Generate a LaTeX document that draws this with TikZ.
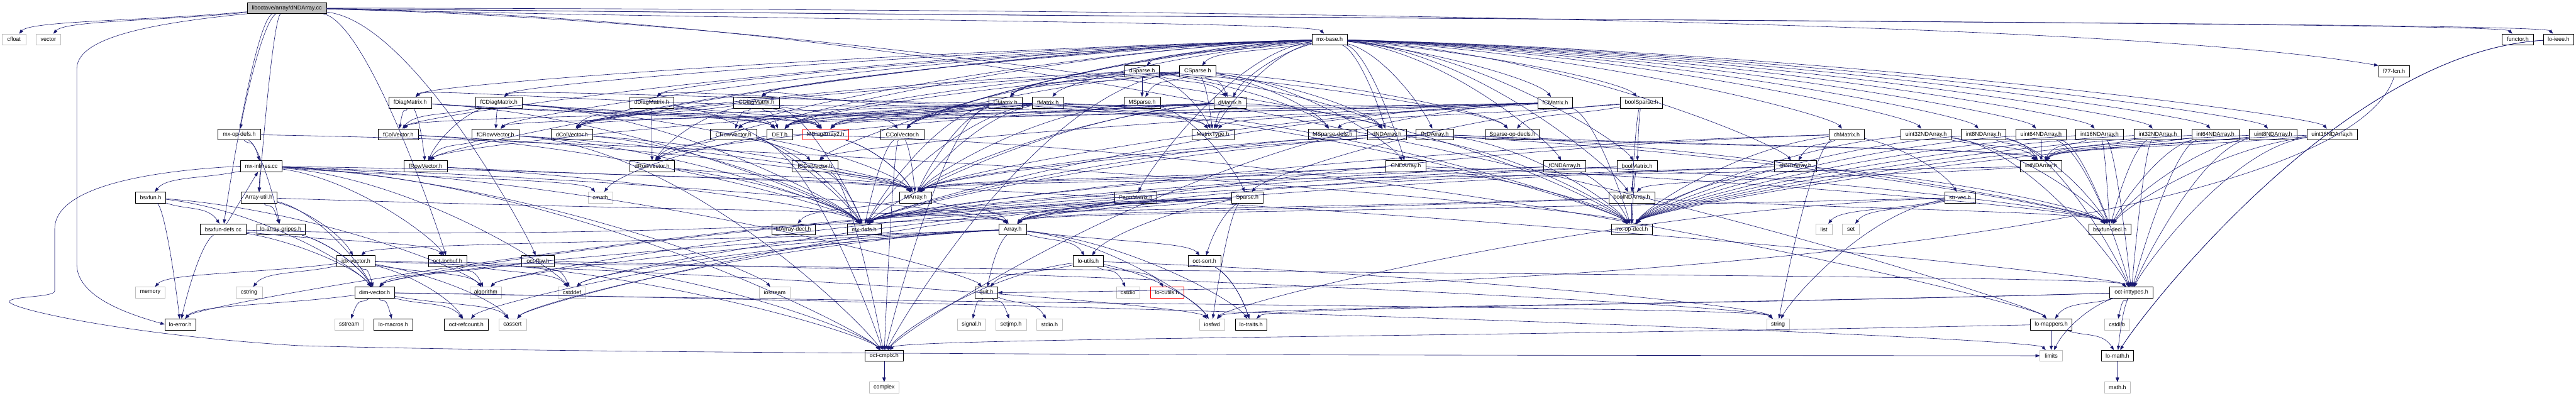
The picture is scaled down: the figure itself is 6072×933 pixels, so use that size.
\documentclass[tikz,border=0pt]{standalone}
\usepackage{fontspec}
\setmainfont{Liberation Sans}
\usetikzlibrary{arrows.meta,calc}
\definecolor{edgec}{HTML}{191970}
\definecolor{sysgray}{HTML}{BFBFBF}
\definecolor{rootfill}{HTML}{BFBFBF}
\definecolor{truncred}{HTML}{FF0000}
\begin{document}
\begin{tikzpicture}[x=1pt,y=-1pt,
  box/.style={draw=black, fill=white, line width=0.9pt, minimum height=26pt, inner sep=0pt, font=\fontsize{13.3}{15}\selectfont, text=black},
  sysbox/.style={box, draw=sysgray},
  redbox/.style={box, draw=truncred},
  e/.style={draw=edgec, line width=0.9pt, -{Triangle[length=10pt,width=7.5pt]}}]
\fill[white] (0,0) rectangle (6072,933);
\useasboundingbox (0,0) rectangle (6072,933);
% row 1
\node[box, fill=rootfill, minimum width=187pt] (root) at (676,19) {liboctave/array/dNDArray.cc};
% row 2
\node[sysbox, minimum width=55pt] (cfloat) at (33,93) {cfloat};
\node[sysbox, minimum width=58pt] (vector) at (114,93) {vector};
\node[box, minimum width=83pt] (mxbase) at (3134,93) {mx-base.h};
\node[box, minimum width=74pt] (functor) at (5935,93) {functor.h};
\node[box, minimum width=71pt] (loieee) at (6031,93) {lo-ieee.h};
% row 3
\node[box, minimum width=82pt] (dSparse) at (2692,168) {dSparse.h};
\node[box, minimum width=85pt] (CSparse) at (2823,168) {CSparse.h};
\node[box, minimum width=73pt] (ffcn) at (5643,168) {f77-fcn.h};
% row 4
\node[box, minimum width=100pt] (fDiagMatrix) at (967,242) {fDiagMatrix.h};
\node[box, minimum width=110pt] (fCDiagMatrix) at (1176,242) {fCDiagMatrix.h};
\node[box, minimum width=103pt] (dDiagMatrix) at (1536,242) {dDiagMatrix.h};
\node[box, minimum width=107pt] (CDiagMatrix) at (1783,242) {CDiagMatrix.h};
\node[box, minimum width=78pt] (CMatrix) at (2370,242) {CMatrix.h};
\node[box, minimum width=73pt] (fMatrix) at (2470,242) {fMatrix.h};
\node[box, minimum width=86pt] (MSparse) at (2692,242) {MSparse.h};
\node[box, minimum width=76pt] (dMatrix) at (2899,242) {dMatrix.h};
\node[box, minimum width=82pt] (fCMatrix) at (3666,242) {fCMatrix.h};
\node[box, minimum width=99pt] (boolSparse) at (3869,242) {boolSparse.h};
% row 5
\node[box, minimum width=100pt] (mxopdefs) at (564,317) {mx-op-defs.h};
\node[box, minimum width=94pt] (fColVector) at (939,317) {fColVector.h};
\node[box, minimum width=111pt] (fCRowVector) at (1168,317) {fCRowVector.h};
\node[box, minimum width=99pt] (dColVector) at (1348,317) {dColVector.h};
\node[box, minimum width=109pt] (CRowVector) at (1729,317) {CRowVector.h};
\node[box, minimum width=60pt] (DET) at (1838,317) {DET.h};
\node[redbox, minimum width=109pt] (MDiagArray) at (1946,317) {MDiagArray2.h};
\node[box, minimum width=101pt] (CColVector) at (2127,317) {CColVector.h};
\node[box, minimum width=99pt] (MatrixType) at (2859,317) {MatrixType.h};
\node[box, minimum width=115pt] (MSparsedefs) at (3141,317) {MSparse-defs.h};
\node[box, minimum width=91pt] (dNDArrayh) at (3269,317) {dNDArray.h};
\node[box, minimum width=89pt] (fNDArray) at (3382,317) {fNDArray.h};
\node[box, minimum width=127pt] (Sparseopdecls) at (3565,317) {Sparse-op-decls.h};
\node[box, minimum width=83pt] (chMatrix) at (4353,317) {chMatrix.h};
\node[box, minimum width=119pt] (u32) at (4540,317) {uint32NDArray.h};
\node[box, minimum width=106pt] (i8) at (4675,317) {int8NDArray.h};
\node[box, minimum width=119pt] (u64) at (4811,317) {uint64NDArray.h};
\node[box, minimum width=113pt] (i16) at (4949,317) {int16NDArray.h};
\node[box, minimum width=112pt] (i32) at (5086,317) {int32NDArray.h};
\node[box, minimum width=112pt] (i64) at (5222,317) {int64NDArray.h};
\node[box, minimum width=112pt] (u8) at (5358,317) {uint8NDArray.h};
\node[box, minimum width=119pt] (u16) at (5497,317) {uint16NDArray.h};
% row 6
\node[box, minimum width=98pt] (mxinlines) at (616,392) {mx-inlines.cc};
\node[box, minimum width=103pt] (fRowVector) at (1003,392) {fRowVector.h};
\node[box, minimum width=105pt] (dRowVector) at (1537,392) {dRowVector.h};
\node[box, minimum width=107pt] (fCColVector) at (1921,392) {fCColVector.h};
\node[box, minimum width=95pt] (CNDArray) at (3314,392) {CNDArray.h};
\node[box, minimum width=99pt] (fCNDArray) at (3688,392) {fCNDArray.h};
\node[box, minimum width=94pt] (boolMatrix) at (3859,392) {boolMatrix.h};
\node[box, minimum width=99pt] (chNDArray) at (4232,392) {chNDArray.h};
\node[box, minimum width=98pt] (intNDArray) at (4811,392) {intNDArray.h};
% row 7
\node[box, minimum width=72pt] (bsxfun) at (355,466) {bsxfun.h};
\node[box, minimum width=85pt] (Arrayutil) at (610,466) {Array-util.h};
\node[sysbox, minimum width=58pt] (cmath) at (1415,466) {cmath};
\node[box, minimum width=75pt] (MArray) at (2158,466) {MArray.h};
\node[box, minimum width=99pt] (PermMatrix) at (2677,466) {PermMatrix.h};
\node[box, minimum width=75pt] (Sparse) at (2940,466) {Sparse.h};
\node[box, minimum width=108pt] (boolNDArray) at (3846,466) {boolNDArray.h};
\node[box, minimum width=73pt] (strvec) at (4620,466) {str-vec.h};
% row 8
\node[box, minimum width=108pt] (bsxfundefs) at (526,541) {bsxfun-defs.cc};
\node[box, minimum width=114pt] (loarraygripes) at (662,541) {lo-array-gripes.h};
\node[box, minimum width=102pt] (MArraydecl) at (1870,541) {MArray-decl.h};
\node[box, minimum width=80pt] (mxdefs) at (2037,541) {mx-defs.h};
\node[box, minimum width=64pt] (Array) at (2387,541) {Array.h};
\node[box, minimum width=96pt] (mxopdecl) at (3846,541) {mx-op-decl.h};
\node[sysbox, minimum width=38pt] (list) at (4299,541) {list};
\node[sysbox, minimum width=40pt] (set) at (4363,541) {set};
\node[box, minimum width=99pt] (bsxfundecl) at (4973,541) {bsxfun-decl.h};
% row 9
\node[box, minimum width=90pt] (idxvector) at (839,616) {idx-vector.h};
\node[box, minimum width=90pt] (octlocbuf) at (1055,616) {oct-locbuf.h};
\node[box, minimum width=77pt] (octfftw) at (1268,616) {oct-fftw.h};
\node[box, minimum width=71pt] (loutils) at (2565,616) {lo-utils.h};
\node[box, minimum width=78pt] (octsort) at (2839,616) {oct-sort.h};
% row 10
\node[sysbox, minimum width=70pt] (memory) at (354,690) {memory};
\node[sysbox, minimum width=62pt] (cstring) at (587,690) {cstring};
\node[box, minimum width=94pt] (dimvector) at (883,690) {dim-vector.h};
\node[sysbox, minimum width=74pt] (algorithm) at (1145,690) {algorithm};
\node[sysbox, minimum width=65pt] (cstddef) at (1348,690) {cstddef};
\node[sysbox, minimum width=72pt] (iostream) at (1826,690) {iostream};
\node[box, minimum width=54pt] (quit) at (2325,690) {quit.h};
\node[sysbox, minimum width=56pt] (cstdio) at (2659,690) {cstdio};
\node[redbox, minimum width=78pt] (locutils) at (2751,690) {lo-cutils.h};
\node[box, minimum width=102pt] (octinttypes) at (5024,690) {oct-inttypes.h};
% row 11
\node[box, minimum width=73pt] (loerror) at (425,765) {lo-error.h};
\node[sysbox, minimum width=69pt] (sstream) at (823,765) {sstream};
\node[box, minimum width=91pt] (lomacros) at (927,765) {lo-macros.h};
\node[box, minimum width=103pt] (octrefcount) at (1099,765) {oct-refcount.h};
\node[sysbox, minimum width=65pt] (cassert) at (1208,765) {cassert};
\node[sysbox, minimum width=67pt] (signal) at (2290,765) {signal.h};
\node[sysbox, minimum width=72pt] (setjmp) at (2383,765) {setjmp.h};
\node[sysbox, minimum width=60pt] (stdio) at (2474,765) {stdio.h};
\node[sysbox, minimum width=59pt] (iosfwd) at (2857,765) {iosfwd};
\node[box, minimum width=75pt] (lotraits) at (2949,765) {lo-traits.h};
\node[sysbox, minimum width=54pt] (string) at (4191,765) {string};
\node[box, minimum width=98pt] (lomappers) at (4835,765) {lo-mappers.h};
\node[sysbox, minimum width=60pt] (cstdlib) at (4990,765) {cstdlib};
% row 12
\node[box, minimum width=91pt] (octcmplx) at (2084,839) {oct-cmplx.h};
\node[sysbox, minimum width=53pt] (limits) at (4835,839) {limits};
\node[box, minimum width=76pt] (lomath) at (4991,839) {lo-math.h};
% row 13
\node[sysbox, minimum width=71pt] (complex) at (2084,914) {complex};
\node[sysbox, minimum width=62pt] (mathh) at (4991,914) {math.h};

% connectors, drawn as gentle splines from source to target
\foreach \s/\tl in {root/{cfloat,vector,Arrayutil,dNDArrayh,mxbase,mxopdefs,octfftw,octlocbuf,bsxfundefs,functor,loieee,lomappers},%
 mxbase/{MatrixType,boolMatrix,chMatrix,dMatrix,CMatrix,fMatrix,fCMatrix,dColVector,CColVector,fColVector,fCColVector,dRowVector,CRowVector,fRowVector,fCRowVector,dDiagMatrix,CDiagMatrix,fDiagMatrix,fCDiagMatrix,PermMatrix,boolNDArray,chNDArray,dNDArrayh,CNDArray,fNDArray,fCNDArray,i8,i16,i32,i64,u8,u16,u32,u64,boolSparse,dSparse,CSparse},%
 dSparse/{dMatrix,dNDArrayh,CMatrix,dColVector,CColVector,DET,MSparse,MSparsedefs,Sparseopdecls,MatrixType},%
 CSparse/{dMatrix,dNDArrayh,CNDArray,CMatrix,CColVector,octcmplx,dColVector,DET,MSparse,MSparsedefs,Sparseopdecls,MatrixType},%
 boolSparse/{boolMatrix,boolNDArray,Sparse,MSparsedefs,Sparseopdecls},%
 MSparse/{MArray,Sparse},%
 dMatrix/{DET,MArray,MDiagArray,MatrixType,dColVector,dDiagMatrix,dRowVector,mxdefs,mxopdecl},%
 CMatrix/{DET,MArray,MDiagArray,MatrixType,CColVector,CDiagMatrix,CRowVector,mxdefs,mxopdecl,octcmplx},%
 fMatrix/{DET,MArray,MDiagArray,MatrixType,fColVector,fDiagMatrix,fRowVector,mxdefs,mxopdecl},%
 fCMatrix/{DET,MArray,MDiagArray,MatrixType,fCColVector,fCDiagMatrix,fCRowVector,mxdefs,mxopdecl,octcmplx},%
 dDiagMatrix/{MDiagArray,dColVector,dRowVector,DET,mxdefs},%
 CDiagMatrix/{MDiagArray,dRowVector,CRowVector,dColVector,CColVector,DET,mxdefs},%
 fDiagMatrix/{MDiagArray,fColVector,fRowVector,DET,mxdefs},%
 fCDiagMatrix/{MDiagArray,fRowVector,fCRowVector,fColVector,fCColVector,DET,mxdefs},%
 dColVector/{MArray,mxdefs},dRowVector/{MArray,mxdefs},%
 fColVector/{MArray,mxdefs},fRowVector/{MArray,mxdefs},%
 CColVector/{MArray,mxdefs,octcmplx},fCColVector/{MArray,mxdefs,octcmplx},%
 CRowVector/{MArray,dRowVector,mxdefs,octcmplx},fCRowVector/{MArray,fRowVector,mxdefs,octcmplx},%
 DET/{cmath,lomappers},%
 MDiagArray/{MArray,MArray},%
 PermMatrix/{Array,mxdefs},%
 MArray/{Array,MArraydecl},%
 Sparse/{cassert,cstddef,iosfwd,algorithm,Array,dimvector,loerror,loutils,octsort},%
 chMatrix/{Array,chNDArray,strvec,mxdefs,mxopdecl,string},%
 chNDArray/{Array,mxdefs,mxopdecl,bsxfundecl},%
 boolMatrix/{Array,boolNDArray,mxdefs,mxopdecl},%
 boolNDArray/{Array,mxdefs,mxopdecl,bsxfundecl},%
 dNDArrayh/{MArray,intNDArray,mxdefs,mxopdecl,bsxfundecl},%
 fNDArray/{MArray,intNDArray,mxdefs,mxopdecl,bsxfundecl},%
 CNDArray/{MArray,mxdefs,mxopdecl,bsxfundecl},%
 fCNDArray/{MArray,mxdefs,mxopdecl,bsxfundecl},%
 intNDArray/{MArray,boolNDArray},%
 i8/{intNDArray,mxopdecl,octinttypes,bsxfundecl},%
 i16/{intNDArray,mxopdecl,octinttypes,bsxfundecl},%
 i32/{intNDArray,mxopdecl,octinttypes,bsxfundecl},%
 i64/{intNDArray,mxopdecl,octinttypes,bsxfundecl},%
 u8/{intNDArray,mxopdecl,octinttypes,bsxfundecl},%
 u16/{intNDArray,mxopdecl,octinttypes,bsxfundecl},%
 u32/{intNDArray,mxopdecl,octinttypes,bsxfundecl},%
 u64/{intNDArray,mxopdecl,octinttypes,bsxfundecl},%
 strvec/{iosfwd,list,set,string,Array},%
 Array/{cassert,cstddef,algorithm,iosfwd,dimvector,idxvector,lotraits,loutils,octsort,quit,octrefcount},%
 Arrayutil/{Array,dimvector,idxvector,loarraygripes},%
 bsxfun/{bsxfundefs,dimvector,loerror,algorithm},%
 bsxfundefs/{loerror,dimvector,octlocbuf,Array},%
 mxinlines/{cstddef,cmath,quit,octcmplx,octlocbuf,octinttypes,Array,Arrayutil,bsxfun,iostream},%
 mxopdefs/{loarraygripes,mxopdecl,mxinlines},%
 loarraygripes/{dimvector,dimvector},%
 idxvector/{cassert,cstring,algorithm,iosfwd,memory,dimvector,octinttypes,octrefcount},%
 dimvector/{cassert,limits,sstream,string,loerror,lomacros,octrefcount},%
 octlocbuf/{cstddef,algorithm,octcmplx},%
 octfftw/{cstddef,string,octcmplx,dimvector},%
 loutils/{cstdio,iosfwd,string,quit,locutils,octcmplx},%
 quit/{signal,setjmp,stdio},%
 octsort/{lotraits,lotraits},%
 octcmplx/{complex,complex},%
 lomappers/{limits,lomath,octcmplx},%
 octinttypes/{cstdlib,limits,iosfwd,lomath,lomappers,lotraits},%
 lomath/{mathh,mathh},%
 loieee/{lomath,lomath}}{\foreach \t in \tl {\draw[e] (\s) .. controls ($(\s)!.5!(\t |- \s) + (0,30)$) and ($(\t)!40pt!(\s) + (0,-40)$) .. (\t);}}

% routed connectors
\draw[e] (bsxfundefs) -- (mxinlines);
\draw[e] (root.south west) .. controls (300,60) and (181,100) .. (181,163) -- (181,623) .. controls (181,700) and (300,740) .. (loerror.west);
\draw[e] (root.east) .. controls (3000,22) and (5000,50) .. (ffcn.north west);
\draw[e] (ffcn.south) .. controls (5560,450) and (4500,672) .. (quit.east);
\draw[e] (mxinlines.west) .. controls (400,400) and (129,430) .. (129,540) -- (129,686) .. controls (129,702) and (20,698) .. (22,712) .. controls (30,730) and (300,790) .. (700,815) .. controls (1500,838) and (3500,838) .. (limits.west);
\end{tikzpicture}
\end{document}
